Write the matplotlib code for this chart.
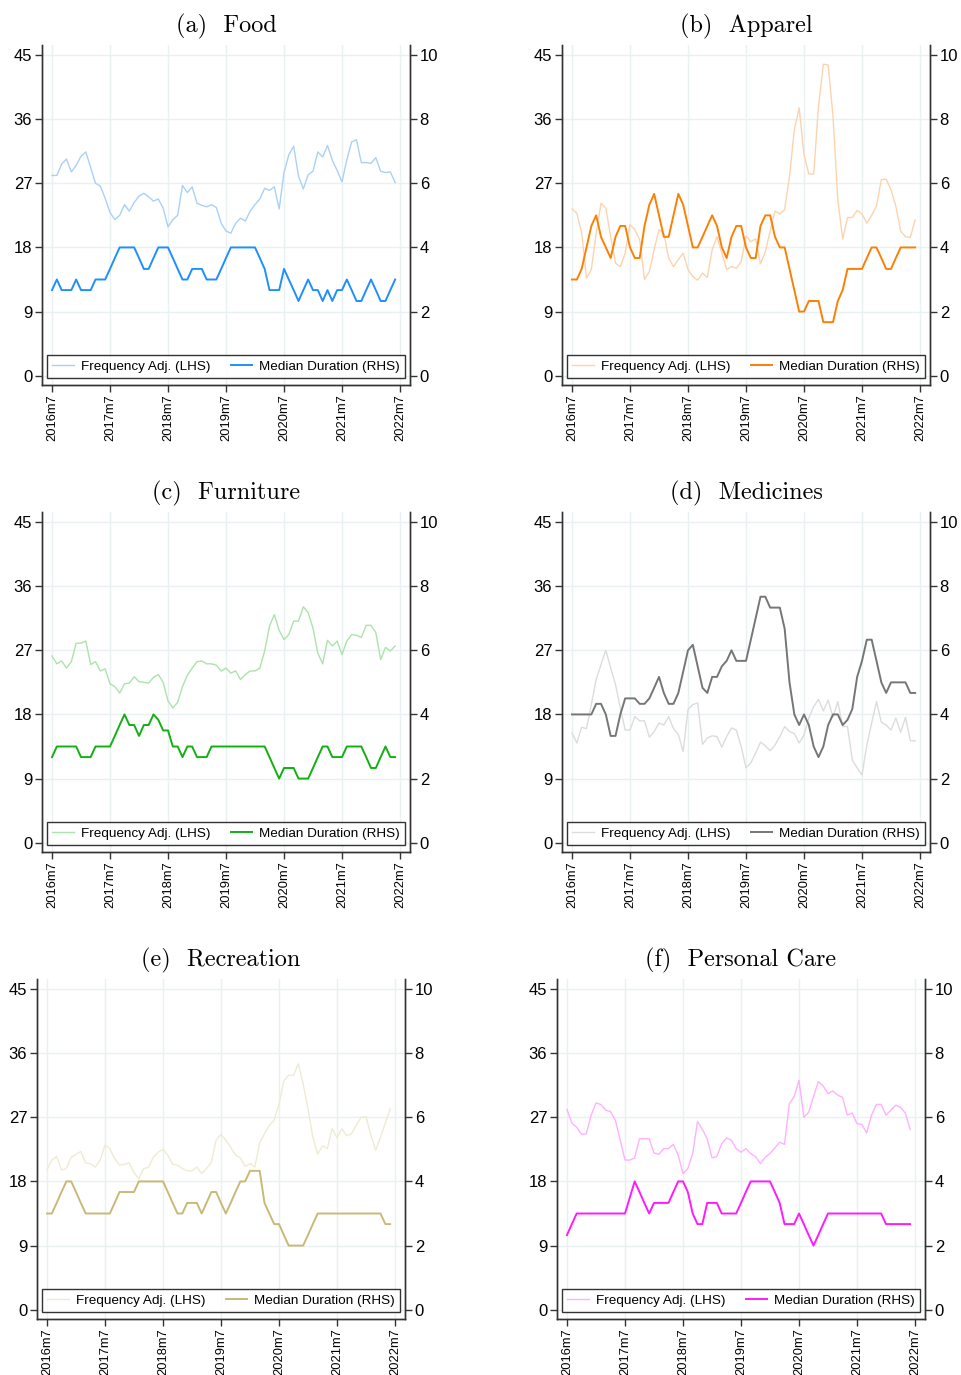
import numpy as np
import matplotlib
matplotlib.use("Agg")
import matplotlib.pyplot as plt
from matplotlib.lines import Line2D

# monthly data, 2016m7 .. 2022m6
food_freq = [28.1, 28.1, 29.7, 30.4, 28.6, 29.5, 30.8, 31.4, 29.2, 27.0, 26.6, 24.9,
             22.9, 21.9, 22.5, 24.0, 23.1, 24.3, 25.2, 25.6, 25.1, 24.5, 24.8, 23.5,
             20.9, 21.9, 22.5, 26.7, 25.7, 26.5, 24.2, 23.9, 23.7, 24.0, 23.6, 21.4,
             20.3, 20.0, 21.4, 22.1, 21.7, 23.1, 24.0, 24.8, 26.3, 26.0, 26.5, 23.4,
             28.5, 31.0, 32.2, 28.0, 26.2, 28.2, 28.7, 31.4, 30.7, 32.3, 30.2, 28.8,
             27.2, 30.3, 32.8, 33.1, 29.9, 29.9, 29.8, 30.6, 28.7, 28.5, 28.6, 27.1]
food_dur = [2.67, 3.0, 2.67, 2.67, 2.67, 3.0, 2.67, 2.67, 2.67, 3.0, 3.0, 3.0,
            3.33, 3.67, 4.0, 4.0, 4.0, 4.0, 3.67, 3.33, 3.33, 3.67, 4.0, 4.0,
            4.0, 3.67, 3.33, 3.0, 3.0, 3.33, 3.33, 3.33, 3.0, 3.0, 3.0, 3.33,
            3.67, 4.0, 4.0, 4.0, 4.0, 4.0, 4.0, 3.67, 3.33, 2.67, 2.67, 2.67,
            3.33, 3.0, 2.67, 2.33, 2.67, 3.0, 2.67, 2.67, 2.33, 2.67, 2.33, 2.67,
            2.67, 3.0, 2.67, 2.33, 2.33, 2.67, 3.0, 2.67, 2.33, 2.33, 2.67, 3.0]

apparel_freq = [23.4, 22.8, 20.0, 13.7, 14.9, 20.0, 24.2, 23.5, 19.5, 15.8, 15.3, 17.2,
                21.2, 20.5, 19.1, 13.5, 14.6, 17.7, 20.5, 20.0, 16.5, 15.3, 16.3, 17.2,
                14.9, 13.9, 13.4, 14.4, 13.8, 17.7, 19.5, 17.2, 14.9, 15.3, 15.1, 16.0,
                19.6, 18.8, 19.2, 15.7, 17.4, 20.3, 23.1, 22.7, 23.3, 28.0, 34.5, 37.6,
                31.0, 28.3, 28.3, 37.8, 43.7, 43.6, 36.4, 24.7, 19.2, 22.2, 22.2, 23.2,
                22.7, 21.4, 22.5, 23.8, 27.5, 27.6, 26.1, 23.8, 20.3, 19.5, 19.4, 21.9]
apparel_dur = [3.0, 3.0, 3.33, 4.0, 4.67, 5.0, 4.33, 4.0, 3.67, 4.33, 4.67, 4.67,
               4.0, 3.67, 3.67, 4.67, 5.33, 5.67, 5.0, 4.33, 4.33, 5.0, 5.67, 5.33,
               4.67, 4.0, 4.0, 4.33, 4.67, 5.0, 4.67, 4.0, 3.67, 4.33, 4.67, 4.67,
               4.0, 3.67, 3.67, 4.67, 5.0, 5.0, 4.33, 4.0, 4.0, 3.33, 2.67, 2.0,
               2.0, 2.33, 2.33, 2.33, 1.67, 1.67, 1.67, 2.33, 2.67, 3.33, 3.33, 3.33,
               3.33, 3.67, 4.0, 4.0, 3.67, 3.33, 3.33, 3.67, 4.0, 4.0, 4.0, 4.0]

furniture_freq = [26.2, 25.1, 25.5, 24.5, 25.4, 28.0, 28.0, 28.3, 25.0, 25.4, 24.1, 24.4,
                  22.3, 21.9, 21.0, 22.3, 22.4, 23.3, 22.6, 22.5, 22.4, 23.2, 23.6, 22.5,
                  19.9, 18.9, 19.7, 21.9, 23.5, 24.5, 25.4, 25.5, 25.1, 25.1, 24.9, 24.1,
                  24.5, 23.8, 24.1, 22.9, 23.6, 24.1, 24.1, 24.5, 26.9, 30.4, 32.0, 29.8,
                  28.5, 29.2, 31.1, 31.1, 33.1, 32.3, 30.1, 26.6, 25.1, 28.4, 27.6, 28.3,
                  26.4, 28.3, 29.2, 29.1, 28.8, 30.5, 30.5, 29.5, 25.7, 27.4, 26.9, 27.6]
furniture_dur = [2.67, 3.0, 3.0, 3.0, 3.0, 3.0, 2.67, 2.67, 2.67, 3.0, 3.0, 3.0,
                 3.0, 3.33, 3.67, 4.0, 3.67, 3.67, 3.33, 3.67, 3.67, 4.0, 3.83, 3.5,
                 3.5, 3.0, 3.0, 2.67, 3.0, 3.0, 2.67, 2.67, 2.67, 3.0, 3.0, 3.0,
                 3.0, 3.0, 3.0, 3.0, 3.0, 3.0, 3.0, 3.0, 3.0, 2.67, 2.33, 2.0,
                 2.33, 2.33, 2.33, 2.0, 2.0, 2.0, 2.33, 2.67, 3.0, 3.0, 2.67, 2.67,
                 2.67, 3.0, 3.0, 3.0, 3.0, 2.67, 2.33, 2.33, 2.67, 3.0, 2.67, 2.67]

medicines_freq = [15.4, 14.0, 16.2, 16.0, 19.4, 22.9, 25.0, 27.0, 24.5, 22.2, 18.9, 15.8,
                  15.8, 17.7, 17.1, 17.1, 14.8, 15.6, 16.8, 16.5, 17.7, 16.0, 15.2, 12.8,
                  18.7, 19.4, 19.6, 13.8, 14.7, 15.0, 14.9, 13.4, 14.9, 16.1, 15.8, 13.5,
                  10.5, 11.2, 12.6, 14.1, 13.6, 12.9, 13.7, 14.9, 16.3, 15.6, 15.3, 14.0,
                  15.1, 17.5, 19.1, 20.1, 18.5, 20.0, 17.6, 19.8, 16.3, 16.3, 11.6, 10.5,
                  9.5, 13.7, 16.8, 19.8, 16.9, 16.5, 15.8, 17.5, 15.5, 17.6, 14.3, 14.3]
medicines_dur = [4.0, 4.0, 4.0, 4.0, 4.0, 4.33, 4.33, 4.0, 3.33, 3.33, 4.0, 4.5,
                 4.5, 4.5, 4.33, 4.33, 4.5, 4.83, 5.17, 4.67, 4.33, 4.33, 4.67, 5.33,
                 6.0, 6.17, 5.5, 4.83, 4.67, 5.17, 5.17, 5.5, 5.67, 6.0, 5.67, 5.67,
                 5.67, 6.33, 7.0, 7.67, 7.67, 7.33, 7.33, 7.33, 6.67, 5.0, 4.0, 3.67,
                 4.0, 3.67, 3.0, 2.67, 3.0, 3.67, 4.0, 4.0, 3.67, 3.83, 4.17, 5.17,
                 5.67, 6.33, 6.33, 5.67, 5.0, 4.67, 5.0, 5.0, 5.0, 5.0, 4.67, 4.67]

recreation_freq = [19.6, 21.0, 21.5, 19.6, 19.8, 21.4, 21.8, 22.2, 20.6, 20.5, 20.0, 21.0,
                   23.1, 22.6, 21.2, 20.3, 20.4, 20.6, 19.2, 18.4, 19.8, 20.0, 21.4, 22.1,
                   22.5, 21.7, 20.4, 20.3, 19.8, 19.5, 19.5, 20.0, 19.1, 19.8, 20.7, 23.8,
                   24.6, 23.8, 22.8, 21.7, 21.3, 20.1, 20.5, 20.0, 23.4, 24.7, 25.9, 26.6,
                   28.9, 32.1, 32.9, 32.9, 34.5, 31.7, 28.2, 24.2, 21.8, 23.0, 22.6, 25.4,
                   24.1, 25.4, 24.4, 24.7, 25.9, 27.0, 27.1, 24.5, 22.4, 24.2, 26.2, 28.2]
recreation_dur = [3.0, 3.0, 3.33, 3.67, 4.0, 4.0, 3.67, 3.33, 3.0, 3.0, 3.0, 3.0,
                  3.0, 3.0, 3.33, 3.67, 3.67, 3.67, 3.67, 4.0, 4.0, 4.0, 4.0, 4.0,
                  4.0, 3.67, 3.33, 3.0, 3.0, 3.33, 3.33, 3.33, 3.0, 3.33, 3.67, 3.67,
                  3.33, 3.0, 3.33, 3.67, 4.0, 4.0, 4.33, 4.33, 4.33, 3.33, 3.0, 2.67,
                  2.67, 2.33, 2.0, 2.0, 2.0, 2.0, 2.33, 2.67, 3.0, 3.0, 3.0, 3.0,
                  3.0, 3.0, 3.0, 3.0, 3.0, 3.0, 3.0, 3.0, 3.0, 3.0, 2.67, 2.67]

personal_freq = [28.1, 26.2, 25.6, 24.6, 24.7, 27.3, 29.0, 28.8, 28.0, 27.8, 26.6, 23.8,
                 21.0, 21.0, 21.3, 24.0, 24.0, 24.0, 22.0, 21.8, 22.6, 22.6, 23.2, 21.7,
                 19.1, 19.8, 21.9, 26.4, 25.3, 24.0, 21.3, 21.5, 23.3, 24.1, 23.8, 22.6,
                 22.1, 22.6, 21.9, 21.5, 20.5, 21.4, 21.9, 22.7, 23.5, 23.2, 28.9, 29.9,
                 32.2, 27.0, 27.7, 29.9, 32.0, 31.4, 30.3, 30.7, 30.1, 29.8, 27.3, 27.6,
                 26.1, 26.0, 24.8, 27.3, 28.8, 28.8, 27.3, 28.0, 28.7, 28.4, 27.6, 25.3]
personal_dur = [2.33, 2.67, 3.0, 3.0, 3.0, 3.0, 3.0, 3.0, 3.0, 3.0, 3.0, 3.0,
                3.0, 3.5, 4.0, 3.67, 3.33, 3.0, 3.33, 3.33, 3.33, 3.33, 3.67, 4.0,
                4.0, 3.67, 3.0, 2.67, 2.67, 3.33, 3.33, 3.33, 3.0, 3.0, 3.0, 3.0,
                3.33, 3.67, 4.0, 4.0, 4.0, 4.0, 4.0, 3.67, 3.33, 2.67, 2.67, 2.67,
                3.0, 2.67, 2.33, 2.0, 2.33, 2.67, 3.0, 3.0, 3.0, 3.0, 3.0, 3.0,
                3.0, 3.0, 3.0, 3.0, 3.0, 3.0, 2.67, 2.67, 2.67, 2.67, 2.67, 2.67]

titles = ["(a)  Food", "(b)  Apparel", "(c)  Furniture",
          "(d)  Medicines", "(e)  Recreation", "(f)  Personal Care"]
freq_colors = ["#a9d1f7", "#fdd3ae", "#abe3ab", "#dcdcdc", "#efebd2", "#ffb0ff"]
dur_colors = ["#1f8fff", "#fb8005", "#12b012", "#767676", "#c9b977", "#ff1aff"]

lhs_ticks = [0, 9, 18, 27, 36, 45]
rhs_ticks = [0, 2, 4, 6, 8, 10]
year_labels = ["2016m7", "2017m7", "2018m7", "2019m7", "2020m7", "2021m7", "2022m7"]

# axes boxes in pixels: left, top (figure 961 x 1375)
W, H = 961.0, 1375.0
boxes = [(42, 45), (562, 45), (42, 512), (562, 512), (37, 979), (557, 979)]
AW, AH = 368, 340

GRID = "#e9f1f3"
SPINE = "#333333"
SANS = "Liberation Sans"


def draw_panel(fig, box, title, freq, dur, fc, dc):
    left, top = box
    ax = fig.add_axes([left / W, 1 - (top + AH) / H, AW / W, AH / H])
    ax2 = ax.twinx()
    x = np.arange(len(freq))

    ax.plot(x, freq, color=fc, lw=1.0)
    ax2.plot(x, dur, color=dc, lw=1.4)

    ax.set_xlim(-2.07, 74.07)
    ax.set_ylim(-1.3, 46.4)
    ax2.set_ylim(-1.3 / 4.5, 46.4 / 4.5)

    ax.set_yticks(lhs_ticks)
    ax2.set_yticks(rhs_ticks)
    ax.set_xticks(np.arange(0, 73, 12))
    ax.set_xticklabels(year_labels, rotation=90, fontsize=9.3, family=SANS)
    for a in (ax, ax2):
        a.tick_params(axis="y", labelsize=12, length=5, width=1, color=SPINE, pad=2)
        for lab in a.get_yticklabels():
            lab.set_family(SANS)
    ax.tick_params(axis="x", length=5, width=1, color=SPINE, pad=2)

    ax.grid(True, color=GRID, lw=1.0)
    ax.set_axisbelow(True)
    for a in (ax, ax2):
        a.spines["top"].set_visible(False)
        for s in ("left", "right", "bottom"):
            a.spines[s].set_color(SPINE)
            a.spines[s].set_linewidth(1.0)

    ax.set_title(title, fontsize=17.5, family="cmr10", pad=9)

    handles = [Line2D([], [], color=fc, lw=1.0), Line2D([], [], color=dc, lw=1.4)]
    leg = ax2.legend(handles, ["Frequency Adj. (LHS)", "Median Duration (RHS)"],
                     loc="lower left", ncol=2, mode="expand",
                     bbox_to_anchor=(5 / AW, 7 / AH, 358 / AW, 26 / AH),
                     prop={"family": SANS, "size": 9.7}, frameon=True, fancybox=False,
                     handlelength=1.6, handletextpad=0.5, columnspacing=1.0,
                     borderpad=0.4, borderaxespad=0)
    leg.get_frame().set_edgecolor("black")
    leg.get_frame().set_linewidth(1.0)


fig = plt.figure(figsize=(9.61, 13.75), dpi=100)

all_freq = [food_freq, apparel_freq, furniture_freq, medicines_freq, recreation_freq, personal_freq]
all_dur = [food_dur, apparel_dur, furniture_dur, medicines_dur, recreation_dur, personal_dur]

for i in range(6):
    draw_panel(fig, boxes[i], titles[i], all_freq[i], all_dur[i], freq_colors[i], dur_colors[i])

fig.savefig("out.png", dpi=100)
